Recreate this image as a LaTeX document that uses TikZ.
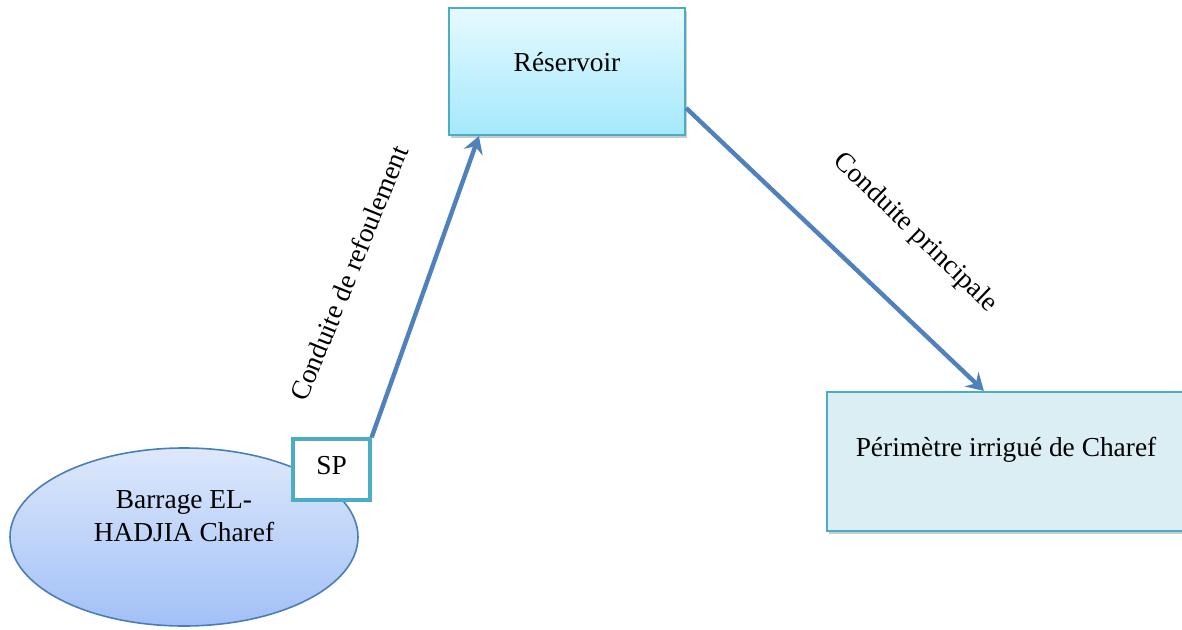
\documentclass[tikz,border=0pt]{standalone}
\usepackage{fontspec}
\setmainfont{Liberation Serif}
\usetikzlibrary{shapes.geometric,arrows.meta,shadows}
\definecolor{teal1}{HTML}{4BACC6}
\definecolor{arrowblue}{HTML}{4F81BD}
\definecolor{ellborder}{HTML}{4A7EBB}
\definecolor{elltop}{HTML}{DDE8FB}
\definecolor{ellbot}{HTML}{A2C0F7}
\definecolor{restop}{HTML}{E6FAFF}
\definecolor{resbot}{HTML}{A4E8FC}
\definecolor{perfill}{HTML}{DAEEF3}
\tikzset{
  every node/.style={font=\fontsize{13.7}{16.5}\selectfont, inner sep=0pt},
  boxshadow/.style={drop shadow={shadow xshift=1.2pt, shadow yshift=-1.5pt, opacity=0.35, fill=black!60}},
  resbox/.style={draw=teal1, line width=1.1pt, top color=restop, bottom color=resbot, boxshadow},
  perbox/.style={draw=teal1, line width=1.1pt, fill=perfill, boxshadow},
  dam/.style={ellipse, draw=ellborder, line width=0.8pt, top color=elltop, bottom color=ellbot},
  spbox/.style={draw=teal1, line width=1.6pt, fill=white},
  pipe/.style={draw=arrowblue, line width=2.2pt, -{Stealth[length=8.5pt, width=10pt, inset=3pt]}},
  pipelabel/.style={anchor=center}
}
\begin{document}
\begin{tikzpicture}[x=0.5pt, y=-0.5pt]
  \clip (0,0) rectangle (1182,630);
  \useasboundingbox (0,0) rectangle (1182,630);
  % Reservoir
  \node[resbox, minimum width=118pt, minimum height=63.5pt] (res) at (567,71.5) {};
  \node (restext) at (567,62) {Réservoir};
  % Perimetre
  \node[perbox, minimum width=184pt, minimum height=69.5pt] (per) at (1011,461.5) {};
  \node (pertext) at (1006,450) {Périmètre irrigué de Charef};
  % Barrage
  \node[dam, minimum width=174pt, minimum height=89pt] (dam) at (184,537) {};
  \node[align=center] (damtext) at (184,516) {Barrage EL-\\HADJIA Charef};
  % SP
  \node[spbox, minimum width=38.5pt, minimum height=30.5pt] (sp) at (331.5,469.5) {};
  \node (sptext) at (331.5,466) {SP};
  % Pipes
  \draw[pipe] (sp.north east) -- ([xshift=15.5pt]res.south west);
  \draw[pipe] ([yshift=-18.25pt]res.east) -- ([xshift=79pt]per.north west);
  % Labels
  \node[pipelabel, rotate=68] (lab1) at (349,273) {Conduite de refoulement};
  \node[pipelabel, rotate=-44] (lab2) at (915,233) {Conduite principale};
\end{tikzpicture}
\end{document}
